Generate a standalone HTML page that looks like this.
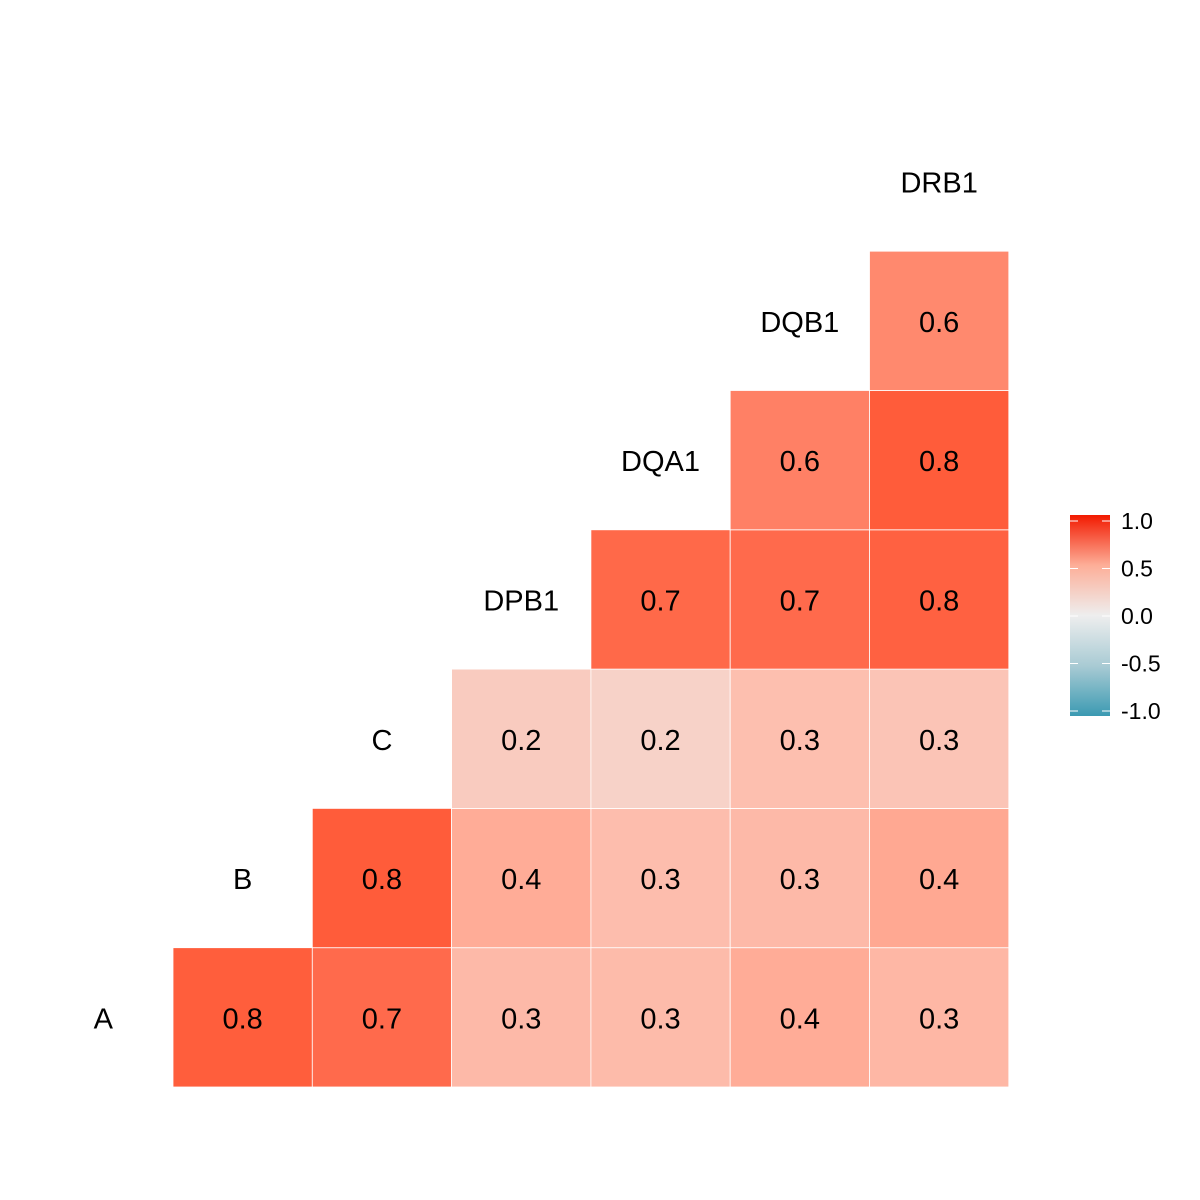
<!DOCTYPE html>
<html><head><meta charset="utf-8"><style>
body{margin:0;background:#fff}
svg{display:block;font-family:"Liberation Sans",sans-serif}
</style></head><body>
<svg id="chart" width="1200" height="1200" viewBox="0 0 1200 1200">
<defs><linearGradient id="lg" x1="0" y1="1" x2="0" y2="0">
<stop offset="0" stop-color="#3B9AB2"/><stop offset="0.25" stop-color="#A9CBD4"/><stop offset="0.5" stop-color="#EEEEEE"/><stop offset="0.75" stop-color="#FDAE98"/><stop offset="1" stop-color="#F21A00"/></linearGradient></defs>
<g id="cells"></g>
<g id="labels"></g>
<g>
<rect x="1070" y="515" width="40" height="201" fill="url(#lg)"/>
<g id="legend-ticks"></g>
</g>
</svg>
<script>
const variables = ["A","B","C","DPB1","DQA1","DQB1","DRB1"];
// correlations: row i (variable i) with columns j>i
const corrRows = [
  [0.79,0.72,0.32,0.31,0.38,0.33],
  [0.80,0.38,0.30,0.32,0.40],
  [0.22,0.18,0.29,0.26],
  [0.73,0.72,0.77],
  [0.62,0.80],
  [0.58]
];
const legendTicks = [1.0,0.5,0.0,-0.5,-1.0];

const NS="http://www.w3.org/2000/svg";
const cw=139.3, x0=33.7, yb=1087;
const xPos=k=>x0+cw*k;          // left edge of column k
const yPos=r=>yb-cw*(r+1);       // top edge of row r
function color(v){
  const stops=[[-1,[59,154,178]],[0,[238,238,238]],[0.2,[248,207,196]],[0.3,[253,189,173]],[0.4,[255,168,146]],[0.6,[255,133,106]],[0.7,[255,110,80]],[0.8,[255,92,58]],[1,[242,26,0]]];
  for(let i=1;i<stops.length;i++){ if(v<=stops[i][0]){const [a,ca]=stops[i-1],[b,cb]=stops[i];const t=(v-a)/(b-a);
    return "rgb("+ca.map((c,k)=>Math.round(c+(cb[k]-c)*t)).join(",")+")";}}
  return "rgb(242,26,0)";
}
const cells=document.getElementById("cells");
corrRows.forEach((row,r)=>{
  row.forEach((v,idx)=>{
    const c=r+1+idx;
    const rect=document.createElementNS(NS,"rect");
    
    
    rect.setAttribute("x",xPos(c));rect.setAttribute("y",yPos(r));
    rect.setAttribute("width",cw);rect.setAttribute("height",cw);
    rect.setAttribute("fill",color(v));rect.setAttribute("stroke","#fff");rect.setAttribute("stroke-width","0.8");
    cells.appendChild(rect);
    const t=document.createElementNS(NS,"text");
    
    
    t.setAttribute("x",xPos(c)+cw/2);t.setAttribute("y",yPos(r)+cw/2+11);
    t.setAttribute("text-anchor","middle");t.setAttribute("font-size","29");
    t.textContent=v.toFixed(1);
    cells.appendChild(t);
  });
});
const labels=document.getElementById("labels");
variables.forEach((n,k)=>{
  const t=document.createElementNS(NS,"text");
  
  
  t.setAttribute("x",xPos(k)+cw/2);t.setAttribute("y",yPos(k)+cw/2+11);
  t.setAttribute("text-anchor","middle");t.setAttribute("font-size","29");
  t.textContent=n;labels.appendChild(t);
});
const lt=document.getElementById("legend-ticks");
const ly=v=>616-v*95;
legendTicks.forEach(v=>{
  [[1070,1078],[1102,1110]].forEach(([a,b])=>{
    const l=document.createElementNS(NS,"line");
    
    
    l.setAttribute("x1",a);l.setAttribute("x2",b);l.setAttribute("y1",ly(v));l.setAttribute("y2",ly(v));
    l.setAttribute("stroke","#fff");l.setAttribute("stroke-width","1");lt.appendChild(l);
  });
  const t=document.createElementNS(NS,"text");
  
  
  t.setAttribute("x",1121);t.setAttribute("y",ly(v)+8);t.setAttribute("font-size","23");
  t.textContent=v.toFixed(1);lt.appendChild(t);
});
</script>
</body></html>
